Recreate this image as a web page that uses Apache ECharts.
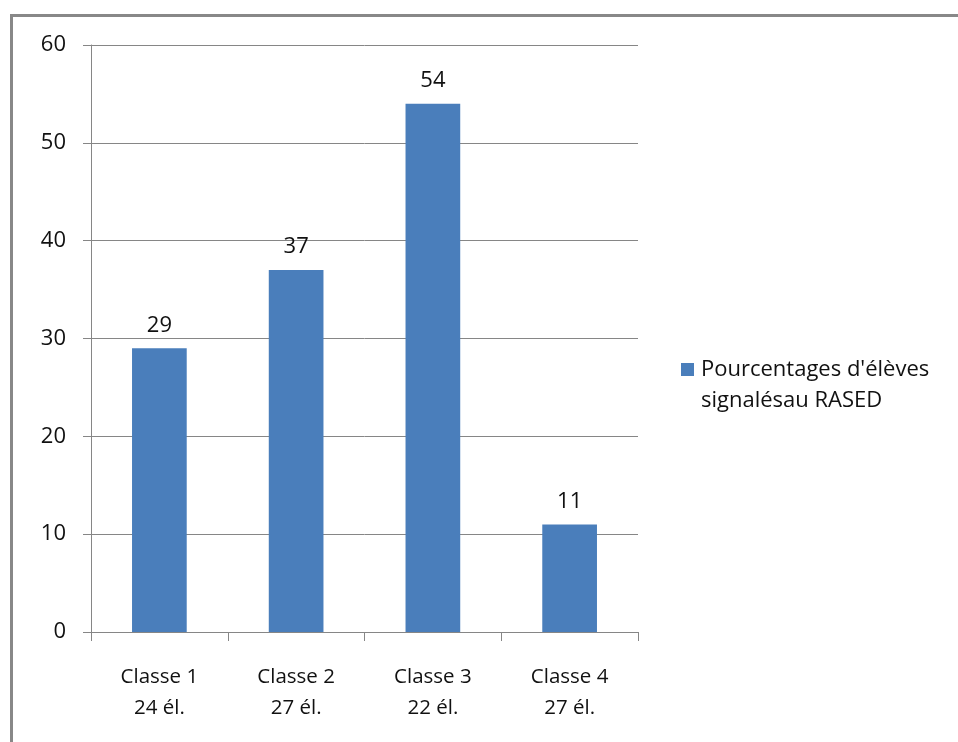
<!DOCTYPE html>
<html><head><meta charset="utf-8">
<script src="https://cdn.jsdelivr.net/npm/echarts@6/dist/echarts.min.js"></script>
<style>html,body{margin:0;padding:0;background:#fff}#c{width:958px;height:742px}</style>
</head><body><div id="c"></div>
<script>
const categories = ['Classe 1\n24 él.', 'Classe 2\n27 él.', 'Classe 3\n22 él.', 'Classe 4\n27 él.'];
const values = [29, 37, 54, 11];
const seriesName = "Pourcentages d'élèves\nsignalésau RASED";
const yTicks = {min: 0, max: 60, interval: 10};
const font = "'Open Sans', 'Noto Sans', sans-serif";
const chart = echarts.init(document.getElementById('c'), null, {renderer: 'canvas'});
chart.setOption({
  animation: false,
  backgroundColor: '#fff',
  textStyle: {fontFamily: font},
  graphic: [
    {type: 'rect', shape: {x: 11.5, y: 15.5, width: 1000, height: 1000}, style: {fill: 'none', stroke: '#888', lineWidth: 3}, silent: true}
  ],
  grid: {left: 91, right: 320, top: 45, bottom: 110, containLabel: false},
  legend: {
    show: true, orient: 'vertical', left: 681, top: 354, padding: 0,
    itemWidth: 13, itemHeight: 44, itemGap: 8,
    icon: 'path://M0,0L13,0L13,13L0,13Z M13,44L13,44',
    textStyle: {fontSize: 22, color: '#111', fontFamily: font, lineHeight: 31, padding: [0, 0, 0, 2]},
    data: [seriesName]
  },
  xAxis: {
    type: 'category', data: categories,
    axisLine: {lineStyle: {color: '#868686', width: 1}},
    axisTick: {show: true, length: 9, alignWithLabel: false, lineStyle: {color: '#868686'}},
    axisLabel: {fontSize: 20.5, color: '#111', lineHeight: 31, margin: 30, fontFamily: font}
  },
  yAxis: {
    type: 'value', min: yTicks.min, max: yTicks.max, interval: yTicks.interval,
    axisLine: {show: true, lineStyle: {color: '#868686'}},
    axisTick: {show: true, length: 8, lineStyle: {color: '#868686'}},
    splitLine: {show: true, lineStyle: {color: '#868686', width: 1}},
    axisLabel: {fontSize: 22, color: '#111', margin: 25, fontFamily: font}
  },
  series: [{
    name: seriesName, type: 'bar', data: values, barWidth: '40%',
    itemStyle: {color: '#4a7ebb'},
    label: {show: true, position: 'top', distance: 12, fontSize: 22, color: '#111', fontFamily: font}
  }]
});
</script></body></html>
